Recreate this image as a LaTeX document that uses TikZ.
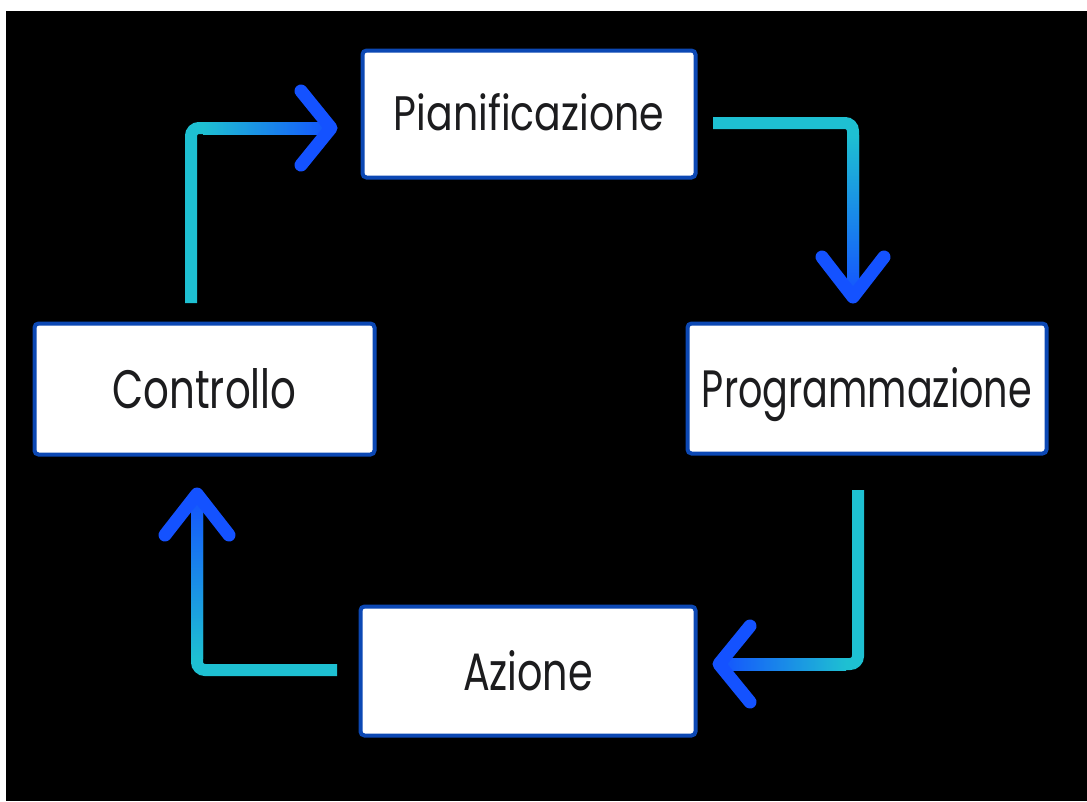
\documentclass[tikz,border=0pt]{standalone}
\usepackage{fontspec}
\setmainfont{Poppins}
\usetikzlibrary{calc}

\definecolor{flowcyan}{RGB}{30,192,210}
\definecolor{flowblue}{RGB}{20,82,255}
\definecolor{boxblue}{RGB}{12,72,180}
\definecolor{ink}{RGB}{28,28,30}

% one drawing unit = 0.75pt
\newlength\pxu
\setlength\pxu{0.75pt}
\newcommand\fitlabel[3]{\resizebox{#1\pxu}{#2\pxu}{#3}}

\tikzset{
  stagebox/.style={draw=boxblue, line width=3pt, fill=white, rounded corners=3pt,
    inner sep=0pt, text=ink, text height=30pt, text depth=1.5pt},
  shaft/.style={draw=flowcyan, line width=9pt, line cap=butt, rounded corners=6pt},
  headstroke/.style={draw=flowblue, line width=9.75pt, line cap=round, line join=round},
}

\begin{document}
\begin{tikzpicture}[x=0.75pt,y=-0.75pt]
  \useasboundingbox (0,0) rectangle (1087,801);
  \fill[white] (0,0) rectangle (1087,801);
  \fill[black] (6,11) rectangle (1087,801);

  % the four stages of the cycle
  \node[stagebox, minimum width=249.75pt, minimum height=95.25pt, text depth=6pt]
    (pian) at (529,114) {\fitlabel{270}{37}{Pianificazione}};
  \node[stagebox, minimum width=269.25pt, minimum height=97.5pt]
    (prog) at (867,388.5) {\fitlabel{330}{40}{Programmazione}};
  \node[stagebox, minimum width=255pt, minimum height=98.25pt]
    (ctrl) at (204.5,389) {\fitlabel{184}{40}{Controllo}};
  \node[stagebox, minimum width=251.25pt, minimum height=96.75pt]
    (azio) at (528,671) {\fitlabel{130}{40}{Azione}};

  % connector ends
  \coordinate (a1tail) at (191,303);
  \coordinate (a1tip)  at (331,128);
  \coordinate (a2tail) at (713,123);
  \coordinate (a2tip)  at (853,297);
  \coordinate (a3tail) at (858,490);
  \coordinate (a3tip)  at (719,664);
  \coordinate (a4tail) at (337,670);
  \coordinate (a4tip)  at (197,494);

  % Controllo -> Pianificazione
  \draw[shaft] (a1tail) |- (a1tip);
  \shade[left color=flowcyan, right color=flowblue]
    ($(a1tail |- a1tip)+(12,-6)$) rectangle ($(a1tip)+(0,6)$);
  \draw[headstroke] ($(a1tip)+(-30,-37)$) -- (a1tip) -- ($(a1tip)+(-30,37)$);

  % Pianificazione -> Programmazione
  \draw[shaft] (a2tail) -| (a2tip);
  \shade[top color=flowcyan, bottom color=flowblue]
    ($(a2tip |- a2tail)+(-6,12)$) rectangle ($(a2tip)+(6,0)$);
  \draw[headstroke] ($(a2tip)+(-31,-40)$) -- (a2tip) -- ($(a2tip)+(31,-40)$);

  % Programmazione -> Azione
  \draw[shaft] (a3tail) |- (a3tip);
  \shade[left color=flowblue, right color=flowcyan]
    ($(a3tail |- a3tip)+(-12,-6)$) rectangle ($(a3tip)+(0,6)$);
  \draw[headstroke] ($(a3tip)+(31,-38)$) -- (a3tip) -- ($(a3tip)+(31,38)$);

  % Azione -> Controllo
  \draw[shaft] (a4tail) -| (a4tip);
  \shade[top color=flowblue, bottom color=flowcyan]
    ($(a4tip |- a4tail)+(-6,-12)$) rectangle ($(a4tip)+(6,0)$);
  \draw[headstroke] ($(a4tip)+(-32,41)$) -- (a4tip) -- ($(a4tip)+(32,41)$);
\end{tikzpicture}
\end{document}
